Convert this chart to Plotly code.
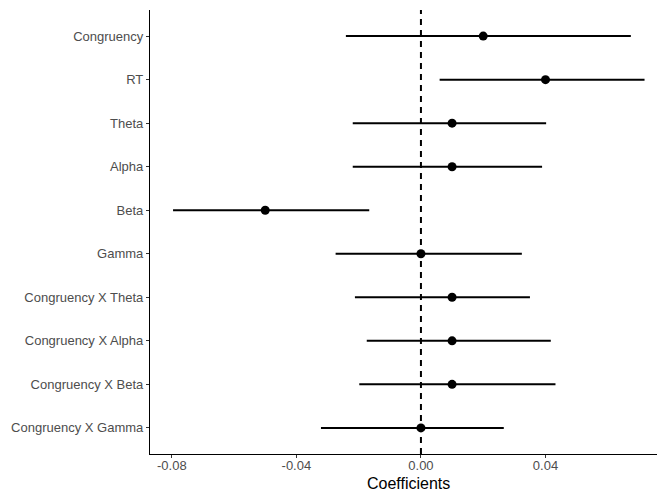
import plotly.graph_objects as go

terms = ["Congruency", "RT", "Theta", "Alpha", "Beta", "Gamma",
         "Congruency X Theta", "Congruency X Alpha", "Congruency X Beta", "Congruency X Gamma"]
estimate = [0.020, 0.040, 0.010, 0.010, -0.050, 0.000, 0.010, 0.010, 0.010, 0.000]
ci_low = [-0.0241, 0.0060, -0.0219, -0.0219, -0.0796, -0.0274, -0.0212, -0.0174, -0.0198, -0.0321]
ci_high = [0.0674, 0.0718, 0.0402, 0.0389, -0.0166, 0.0324, 0.0350, 0.0417, 0.0432, 0.0266]
tick_vals = [-0.08, -0.04, 0.0, 0.04]
tick_text = ["-0.08", "-0.04", "0.00", "0.04"]
x_title = "Coefficients"

fig = go.Figure()

# dashed reference line at zero
fig.add_shape(type="line", x0=0, x1=0, y0=0, y1=1, xref="x", yref="paper",
              line=dict(color="black", width=2, dash="6px,5px"), layer="below")

ex, ey = [], []
for t, lo, hi in zip(terms, ci_low, ci_high):
    ex += [lo, hi, None]
    ey += [t, t, None]
fig.add_trace(go.Scatter(x=ex, y=ey, mode="lines",
                         line=dict(color="black", width=2), hoverinfo="skip", showlegend=False))
fig.add_trace(go.Scatter(x=estimate, y=terms, mode="markers",
                         marker=dict(color="black", size=9), showlegend=False))

fig.add_annotation(text=x_title, xref="paper", yref="paper", x=0.509, y=0,
                   xanchor="center", yanchor="middle", yshift=-29, showarrow=False,
                   font=dict(size=16, color="black"))

fig.update_layout(
    width=657, height=491,
    margin=dict(l=150, r=0, t=10, b=37),
    paper_bgcolor="white", plot_bgcolor="white",
    font=dict(family="Liberation Sans, Arial, sans-serif", size=13, color="#4D4D4D"),
    xaxis=dict(range=[-0.087, 0.0758], tickvals=tick_vals, ticktext=tick_text,
               showgrid=False, zeroline=False, showline=True, linecolor="black", linewidth=1.2,
               ticks="outside", ticklen=3, tickcolor="#333333", tickwidth=1.1,
               ticklabelstandoff=-4,
               tickfont=dict(size=13, color="#4D4D4D")),
    yaxis=dict(type="category", categoryorder="array", categoryarray=terms,
               range=[9.6, -0.6], showgrid=False, zeroline=False, showline=True,
               linecolor="black", linewidth=1.2,
               ticks="outside", ticklen=3, tickcolor="#333333", tickwidth=1.1,
               tickfont=dict(size=13, color="#4D4D4D")),
)

fig.write_html("out.html", config={"displayModeBar": False},
               post_script="document.body.style.margin='0';document.body.style.overflow='hidden';")
